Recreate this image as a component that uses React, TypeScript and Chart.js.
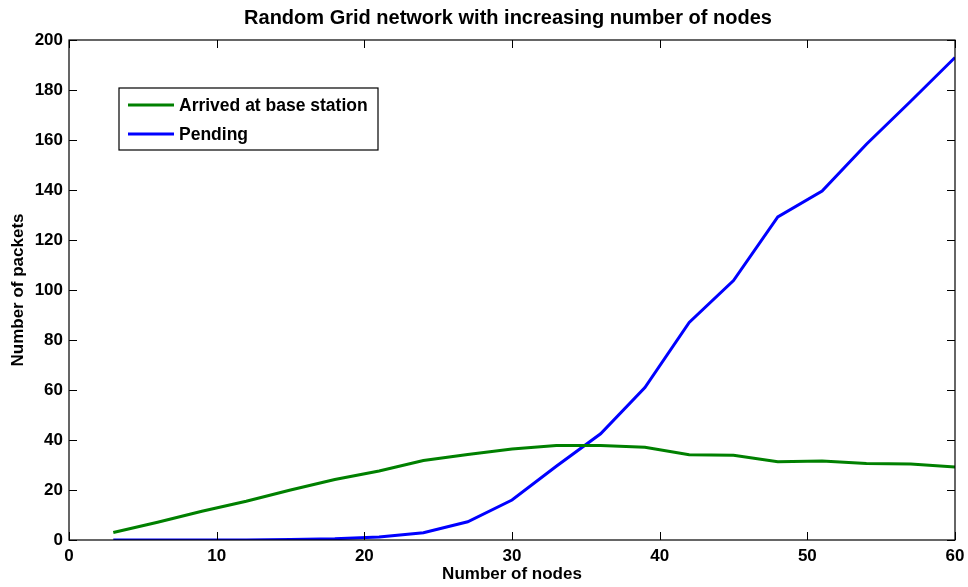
import React, { useEffect, useRef } from "react";
import { Chart, registerables } from "chart.js";

Chart.register(...registerables);

// Number of nodes in the random grid network
const nodeCounts = [3, 6, 9, 12, 15, 18, 21, 24, 27, 30, 33, 36, 39, 42, 45, 48, 51, 54, 57, 60];
// Packets that reached the base station
const arrivedPackets = [3, 7.1, 11.5, 15.5, 20, 24.2, 27.6, 31.8, 34.2, 36.4, 37.8, 37.8, 37.1, 34.1, 33.9, 31.3, 31.6, 30.6, 30.4, 29.2];
// Packets still pending
const pendingPackets = [0, 0, 0, 0, 0.2, 0.5, 1.2, 2.9, 7.3, 16, 29.5, 42.5, 61, 87, 103.8, 129.2, 139.6, 158.3, 175.5, 193];

const seriesLabels = ["Arrived at base station", "Pending"];
const seriesColors = ["#008000", "#0000ff"];
const chartTitle = "Random Grid network with increasing number of nodes";
const xAxisTitle = "Number of nodes";
const yAxisTitle = "Number of packets";

const FONT = "'Liberation Sans', Arial, Helvetica, sans-serif";

// Draws the boxed axes with inward ticks, the title and the legend box.
const framePlugin = {
  id: "frame",
  afterDraw(chart: any) {
    const { ctx, chartArea, scales } = chart;
    const { left, right, top, bottom } = chartArea;
    const tickLen = 8;
    ctx.save();
    ctx.strokeStyle = "#000";
    ctx.lineWidth = 1.2;
    ctx.strokeRect(left, top, right - left, bottom - top);

    ctx.beginPath();
    scales.x.ticks.forEach((t: any) => {
      const px = Math.round(scales.x.getPixelForValue(t.value)) + 0.5;
      ctx.moveTo(px, bottom);
      ctx.lineTo(px, bottom - tickLen);
      ctx.moveTo(px, top);
      ctx.lineTo(px, top + tickLen);
    });
    scales.y.ticks.forEach((t: any) => {
      const py = Math.round(scales.y.getPixelForValue(t.value)) + 0.5;
      ctx.moveTo(left, py);
      ctx.lineTo(left + tickLen, py);
      ctx.moveTo(right, py);
      ctx.lineTo(right - tickLen, py);
    });
    ctx.lineWidth = 1;
    ctx.stroke();

    // title
    ctx.fillStyle = "#000";
    ctx.font = `bold 20px ${FONT}`;
    ctx.textAlign = "center";
    ctx.textBaseline = "middle";
    ctx.fillText(chartTitle, 508, 18);

    // legend
    const lx = 119;
    const ly = 88;
    const lw = 259;
    const lh = 62;
    ctx.fillStyle = "#fff";
    ctx.fillRect(lx, ly, lw, lh);
    ctx.strokeStyle = "#000";
    ctx.lineWidth = 1.2;
    ctx.strokeRect(lx, ly, lw, lh);
    ctx.font = `bold 17.5px ${FONT}`;
    ctx.textAlign = "left";
    chart.data.datasets.forEach((ds: any, i: number) => {
      const y = ly + 17 + i * 29;
      ctx.strokeStyle = ds.borderColor;
      ctx.lineWidth = 3;
      ctx.beginPath();
      ctx.moveTo(lx + 9, y);
      ctx.lineTo(lx + 55, y);
      ctx.stroke();
      ctx.fillStyle = "#000";
      ctx.fillText(ds.label, lx + 60, y + 1);
    });
    ctx.restore();
  },
};

export default function App() {
  const canvasRef = useRef<HTMLCanvasElement | null>(null);

  useEffect(() => {
    if (!canvasRef.current) return;
    const chart = new Chart(canvasRef.current, {
      type: "line",
      data: {
        datasets: [
          {
            label: seriesLabels[0],
            data: nodeCounts.map((n, i) => ({ x: n, y: arrivedPackets[i] })),
            borderColor: seriesColors[0],
            backgroundColor: seriesColors[0],
            borderWidth: 3,
            pointRadius: 0,
            tension: 0,
          },
          {
            label: seriesLabels[1],
            data: nodeCounts.map((n, i) => ({ x: n, y: pendingPackets[i] })),
            borderColor: seriesColors[1],
            backgroundColor: seriesColors[1],
            borderWidth: 3,
            pointRadius: 0,
            tension: 0,
          },
        ],
      },
      options: {
        animation: false,
        responsive: false,
        maintainAspectRatio: false,
        layout: { padding: { top: 40, right: 13, left: 0, bottom: 0 } },
        plugins: {
          legend: { display: false },
          title: { display: false },
          tooltip: { enabled: false },
        },
        scales: {
          x: {
            type: "linear",
            min: 0,
            max: 60,
            ticks: {
              stepSize: 10,
              color: "#000",
              font: { family: FONT, size: 17, weight: "bold" },
              padding: 6,
              maxRotation: 0,
            },
            grid: { display: false, drawTicks: false },
            border: { display: false },
            title: {
              display: true,
              text: xAxisTitle,
              color: "#000",
              font: { family: FONT, size: 17, weight: "bold" },
              padding: { top: 0, bottom: 2 },
            },
            afterFit(scale: any) {
              scale.height = 47;
              scale.paddingLeft = 0;
              scale.paddingRight = 0;
            },
          },
          y: {
            min: 0,
            max: 200,
            ticks: {
              stepSize: 20,
              color: "#000",
              font: { family: FONT, size: 17, weight: "bold" },
              padding: 6,
            },
            grid: { display: false, drawTicks: false },
            border: { display: false },
            title: {
              display: true,
              text: yAxisTitle,
              color: "#000",
              font: { family: FONT, size: 17, weight: "bold" },
              padding: { top: 8, bottom: 0 },
            },
            afterFit(scale: any) {
              scale.width = 69;
              scale.paddingTop = 0;
              scale.paddingBottom = 0;
            },
          },
        },
      },
      plugins: [framePlugin],
    });
    return () => chart.destroy();
  }, []);

  return (
    <div style={{ position: "fixed", left: 0, top: 0, width: 968, height: 587, background: "#fff" }}>
      <canvas ref={canvasRef} width={968} height={587} />
    </div>
  );
}
